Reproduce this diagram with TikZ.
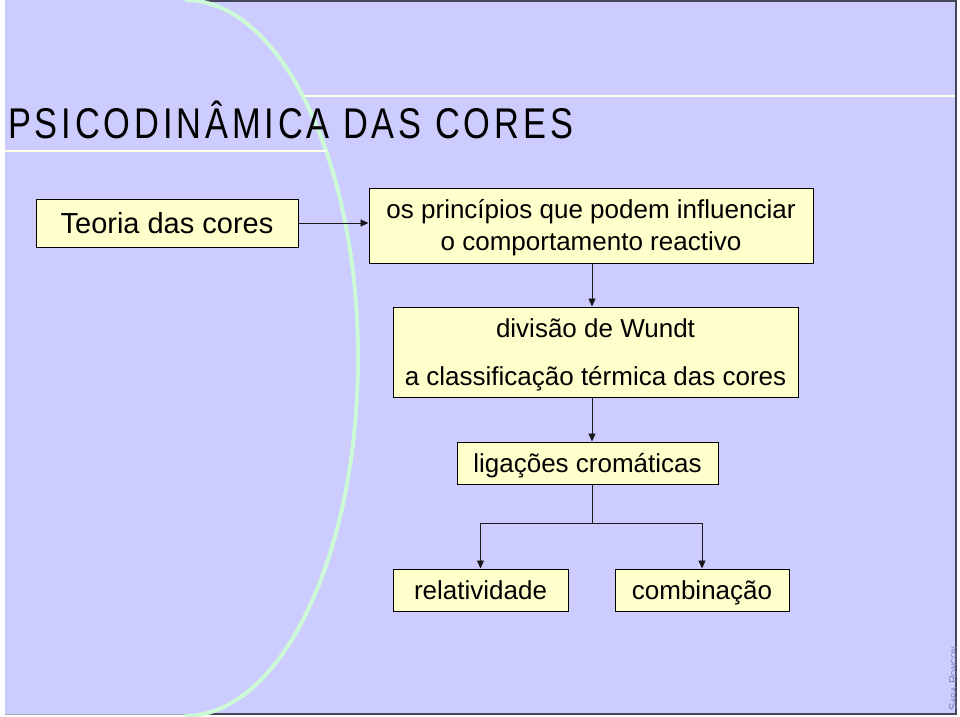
\documentclass[tikz,border=0pt]{standalone}
\usepackage{fontspec}
\setmainfont{Liberation Sans}
\newfontfamily\titlefont[FakeStretch=0.8,LetterSpace=9]{Liberation Sans}
\usetikzlibrary{arrows.meta}
\definecolor{bg}{RGB}{204,204,255}
\definecolor{boxfill}{RGB}{255,255,204}
\definecolor{arcgreen}{RGB}{204,250,214}
\definecolor{cream}{RGB}{255,255,232}
\definecolor{framedark}{RGB}{70,70,90}
\definecolor{framegray}{RGB}{170,170,190}
\definecolor{sig}{RGB}{120,125,185}
\begin{document}
\begin{tikzpicture}[x=1pt,y=1pt,
  box/.style={draw=black, line width=1pt, fill=boxfill, inner sep=0pt, align=center,
              font=\fontsize{26}{32}\selectfont, text height=18.6pt, text depth=0pt},
  conn/.style={draw=black!90, line width=0.9pt},
  arr/.style={conn, -{Triangle[length=8pt,width=7pt]}}]
\useasboundingbox (0,0) rectangle (960,-716);
\fill[white] (0,0) rectangle (960,-716);
\fill[bg] (5,0) rectangle (956,-714);
% frame lines
\draw[framegray, line width=1pt] (5,-714) -- (200,-714);
\draw[framedark, line width=1.2pt] (203,-1) -- (956,-1) -- (956,-714) -- (200,-714);
% green arc
\draw[arcgreen, line width=4pt] (185,0) arc[start angle=90, end angle=-90, x radius=173pt, y radius=358pt];
% cream rules
\draw[cream, line width=2pt] (304,-96) -- (955,-96);
\draw[cream, line width=2pt] (5,-151) -- (327,-151);
% title
\node[anchor=base west, inner sep=0pt] (title) at (8,-138)
  {\titlefont\fontsize{43}{43}\selectfont PSICODINÂMICA DAS CORES};
% boxes
\node[box, minimum width=262pt, minimum height=48pt, font=\fontsize{29}{32}\selectfont, text height=20.8pt] (teoria) at (167,-223) {Teoria das cores};
\node[box, minimum width=444pt, minimum height=75pt, text height=50.6pt] (princ) at (591,-225.5)
  {os princípios que podem influenciar\\o comportamento reactivo};
\node[box, minimum width=405pt, minimum height=90pt, text height=66.6pt] (wundt) at (595.5,-352)
  {divisão de Wundt\\[16pt]a classificação térmica das cores};
\node[box, minimum width=261pt, minimum height=42pt] (lig) at (587.5,-463) {ligações cromáticas};
\node[box, minimum width=175pt, minimum height=42pt] (rel) at (480.5,-590) {relatividade};
\node[box, minimum width=174pt, minimum height=42pt] (comb) at (702,-590) {combinação};
% connectors
\coordinate (spine) at (592,0);
\coordinate (split) at (592,-523);
\draw[arr] (teoria.east) -- (teoria.east -| princ.west);
\draw[arr] (princ.south -| spine) -- (wundt.north -| spine);
\draw[arr] (wundt.south -| spine) -- (lig.north -| spine);
\draw[conn] (lig.south -| spine) -- (split);
\draw[arr] (split) -| (rel.north);
\draw[arr] (split) -| (comb.north);
% signature
\node[rotate=90, anchor=west, inner sep=0pt, text=sig, font=\fontsize{11}{11}\selectfont] (sigtext) at (953,-711)
  {S{\fontsize{8}{8}\selectfont ARA} R{\fontsize{8}{8}\selectfont ONCON}};
\end{tikzpicture}
\end{document}
